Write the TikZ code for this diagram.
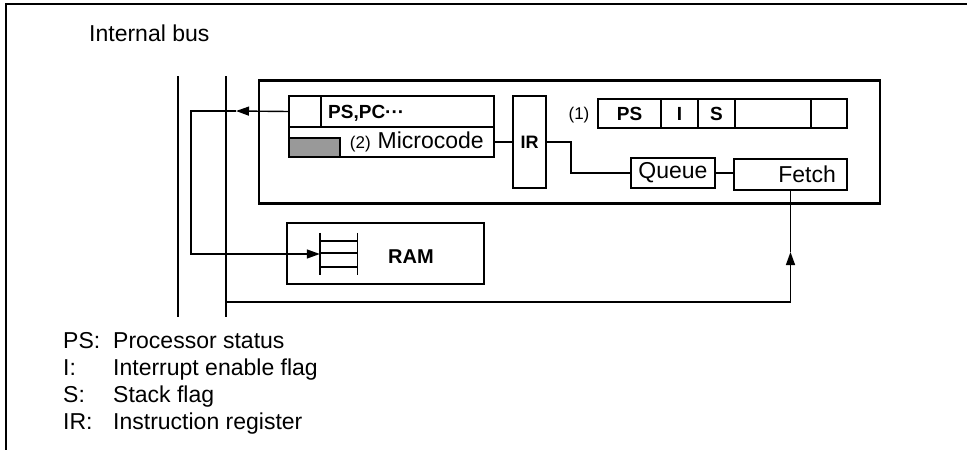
\documentclass[tikz,border=0pt]{standalone}
\usepackage{fontspec}
\setmainfont{Liberation Sans}
\usetikzlibrary{arrows.meta,positioning}

\begin{document}
\begin{tikzpicture}[
  x=1pt, y=-1pt,
  node distance=0pt,
  box/.style={draw,line width=1.7pt,inner sep=0pt,outer sep=0pt},
  cell/.style={box,minimum height=29pt,font=\fontsize{19}{21}\selectfont\bfseries},
  txt/.style={inner sep=0pt,font=\fontsize{23}{27}\selectfont},
  small/.style={inner sep=0pt,font=\fontsize{17}{19}\selectfont},
  wire/.style={line width=1.4pt},
  arrow/.style={wire,-{Triangle[length=13pt,width=9pt]}}
]
\useasboundingbox (0,0) rectangle (967,450);
\draw[line width=2.6pt] (967,4) -- (6,4) -- (6,450);

\node[txt,anchor=base west] (title) at (89,41) {Internal bus};

% bus lines
\coordinate (busAtop) at (178,76);
\coordinate (busAbot) at (178,317);
\coordinate (busBtop) at (226,76);
\coordinate (busBbot) at (226,317);
\draw[line width=1.9pt] (busAtop) -- (busAbot);
\draw[line width=1.9pt] (busBtop) -- (busBbot);

% processor
\node[box,line width=2.1pt,minimum width=621pt,minimum height=123pt] (cpu) at (569.5,142) {};
\node[box,minimum width=205pt,minimum height=31pt] (pcrow) at (391.5,111.5) {};
\node[box,minimum width=205pt,minimum height=30pt,below=of pcrow] (mcrow) {};
\node[box,minimum width=32pt,minimum height=31pt,anchor=north west] (pcflag) at (pcrow.north west) {};
\node[box,fill=black!40,minimum width=51pt,minimum height=19pt,anchor=south west] (shade) at (mcrow.south west) {};
\node[small,font=\fontsize{19}{21}\selectfont\bfseries,anchor=base west] (pctext) at (328,118) {PS,PC···};
\node[txt,anchor=base east] (mctext) at (484,148) {{\fontsize{17}{19}\selectfont(2)}\hspace{7pt}Microcode};
\node[box,minimum width=33pt,minimum height=92pt,font=\fontsize{18}{20}\selectfont\bfseries] (ir) at (529.5,142) {IR};

% register (1)
\node[small,anchor=base] (regnum) at (579,119) {(1)};
\node[cell,minimum width=63pt,anchor=north west] (psf) at (598,99) {PS};
\node[cell,minimum width=37pt,right=of psf] (iflag) {I};
\node[cell,minimum width=37pt,right=of iflag] (sflag) {S};
\node[cell,minimum width=76pt,right=of sflag] (spareA) {};
\node[cell,minimum width=36pt,right=of spareA] (spareB) {};

\node[box,txt,minimum width=84pt,minimum height=30pt] (queue) at (673,173) {Queue};
\node[box,minimum width=113pt,minimum height=31pt] (fetch) at (790.5,174.5) {};
\node[txt,anchor=base east] (fetchtext) at (836,182) {Fetch};

% memory
\node[box,minimum width=197pt,minimum height=61pt] (ram) at (385.5,253.5) {};
\node[txt,font=\fontsize{20}{22}\selectfont\bfseries,anchor=base] (ramtext) at (411,263) {RAM};
\node[minimum width=37pt,minimum height=42pt,inner sep=0pt] (stack) at (338.5,254) {};
\draw[wire] (stack.north west) -- (stack.south west);
\draw[wire] (stack.north east) -- (stack.south east);
\foreach \d in {8,20,34}
  \draw[wire] ([yshift=-\d pt]stack.north west) -- ([yshift=-\d pt]stack.north east);

% connections
\coordinate (tipA) at (236,111);
\coordinate (turnA) at (191,111);
\draw[arrow] (pcflag.west) -- (tipA);
\draw[arrow] (tipA) -- (turnA) |- (stack.west);
\draw[wire] (mcrow.east) -- (mcrow.east -| ir.west);
\draw[wire] (ir.east) -- ++(25,0) |- (queue.west);
\draw[wire] (queue.east) -- (queue.east -| fetch.west);
\coordinate (retA) at (226,302);
\coordinate (tipB) at (790.5,252);
\draw[arrow] (retA) -| (tipB);
\draw[wire] (tipB) -- (fetch.south);

% legend
\node[txt,anchor=base west] (legend) at (63,348) {\begin{tabular}[t]{@{}p{50pt}@{}l@{}}
PS: & Processor status\\
I: & Interrupt enable flag\\
S: & Stack flag\\
IR: & Instruction register
\end{tabular}};
\end{tikzpicture}
\end{document}
